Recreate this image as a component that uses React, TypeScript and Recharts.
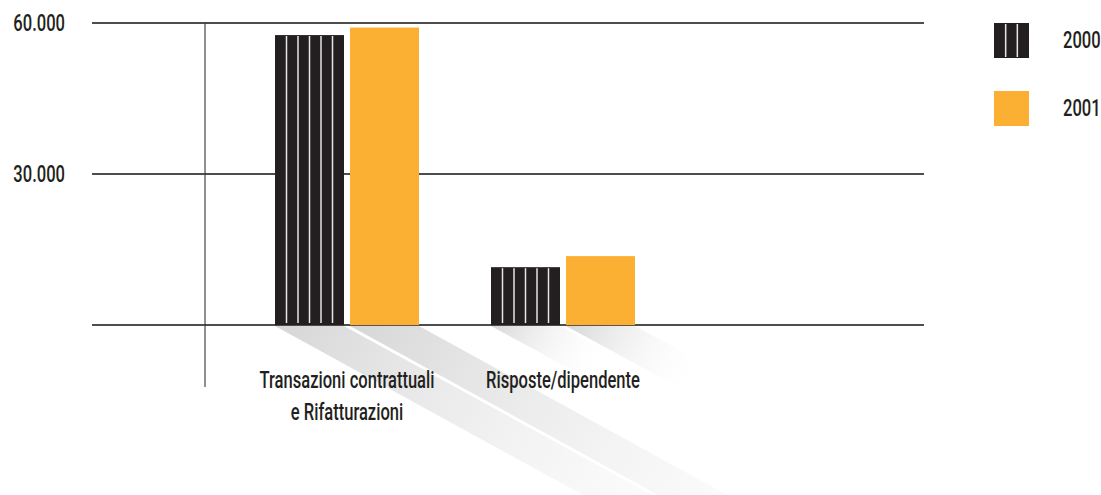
import React from 'react';
import {
  BarChart,
  Bar,
  XAxis,
  YAxis,
  CartesianGrid,
  Legend,
} from 'recharts';

// values
const categories = ['Transazioni contrattuali\ne Rifatturazioni', 'Risposte/dipendente'];
const values2000 = [57600, 11500];
const values2001 = [59100, 13700];
const yTicks = [0, 30000, 60000];
const seriesNames = ['2000', '2001'];

const DARK = '#231f20';
const ORANGE = '#fbb034';
const GRID = '#4d4d4d';
const FONT = "Roboto, 'Liberation Sans', sans-serif";
// the original uses a condensed face; squeeze a regular one horizontally
const SQUEEZE = 0.72;
const FONT_SIZE = 23;

const data = categories.map((name, i) => ({
  name,
  y2000: values2000[i],
  y2001: values2001[i],
}));

const formatTick = (v: number) => (v === 0 ? '' : v.toLocaleString('it-IT'));

/** bar + its diagonal fading shadow on the floor */
const makeShape = (striped: boolean, key: string) => (props: any) => {
  const { x, y, width, height, fill, index } = props;
  const base = y + height;
  const dy = height;
  const dx = dy / 0.55;
  const gid = `shadow-${key}-${index}`;
  const stripes = striped ? [1, 2, 3, 4, 5].map((k) => x + (width * k) / 6) : [];
  return (
    <g>
      <defs>
        <linearGradient
          id={gid}
          gradientUnits="userSpaceOnUse"
          x1={x}
          y1={base}
          x2={x + dx}
          y2={base + dy}
        >
          <stop offset="0%" stopColor="#cccccc" stopOpacity={0.8} />
          <stop offset="100%" stopColor="#ffffff" stopOpacity={0} />
        </linearGradient>
      </defs>
      <polygon
        points={`${x},${base + 1} ${x + width},${base + 1} ${x + width + dx},${base + dy} ${x + dx},${base + dy}`}
        fill={`url(#${gid})`}
      />
      <rect x={x} y={y} width={width} height={height} fill={fill} />
      {stripes.map((sx, i) => (
        <line
          key={i}
          x1={sx}
          x2={sx}
          y1={y + 1}
          y2={base - 2}
          stroke="#e6e6e6"
          strokeWidth={1.5}
        />
      ))}
    </g>
  );
};

const CategoryTick = (props: any) => {
  const { x, y, payload } = props;
  const lines = String(payload.value).split('\n');
  return (
    <text
      transform={`translate(${x},${y}) scale(${SQUEEZE},1)`}
      textAnchor="middle"
      fill={DARK}
      fontSize={FONT_SIZE}
      fontWeight={500}
      fontFamily={FONT}
    >
      {lines.map((l, i) => (
        <tspan key={i} x={0} y={1 + i * 32}>
          {l}
        </tspan>
      ))}
    </text>
  );
};

const ValueTick = (props: any) => {
  const { x, y, payload } = props;
  return (
    <text
      transform={`translate(${x},${y}) scale(${SQUEEZE},1)`}
      textAnchor="end"
      dy="0.36em"
      fill={DARK}
      fontSize={FONT_SIZE}
      fontWeight={500}
      fontFamily={FONT}
    >
      {formatTick(payload.value)}
    </text>
  );
};

const LegendContent = () => (
  <div style={{ width: 177, paddingLeft: 70, boxSizing: 'border-box', fontFamily: FONT }}>
    {seriesNames.map((name, i) => (
      <div
        key={name}
        style={{ display: 'flex', alignItems: 'center', height: 35, marginBottom: 33, whiteSpace: 'nowrap' }}
      >
        <svg width={35} height={35} style={{ flexShrink: 0, display: 'block' }}>
          <rect x={0} y={0} width={35} height={35} fill={i === 0 ? DARK : ORANGE} />
          {i === 0 &&
            [1, 2].map((k) => (
              <line
                key={k}
                x1={(35 * k) / 3}
                x2={(35 * k) / 3}
                y1={1}
                y2={34}
                stroke="#e6e6e6"
                strokeWidth={1.5}
              />
            ))}
        </svg>
        <span
          style={{
            marginLeft: 34,
            fontSize: FONT_SIZE,
            fontWeight: 500,
            color: DARK,
            display: 'inline-block',
            transform: `scaleX(${SQUEEZE})`,
            transformOrigin: 'left center',
          }}
        >
          {name}
        </span>
      </div>
    ))}
  </div>
);

export default function App() {
  return (
    <div style={{ position: 'absolute', left: 0, top: 0, width: 1101, height: 495, background: '#fff' }}>
      <BarChart
        width={1101}
        height={495}
        data={data}
        margin={{ top: 23, right: 0, bottom: 0, left: 0 }}
        barSize={69}
        barGap={6}
      >
        <CartesianGrid
          horizontal
          vertical={false}
          horizontalValues={yTicks}
          stroke={GRID}
          strokeWidth={2}
        />
        <Bar
          dataKey="y2000"
          name="2000"
          fill={DARK}
          shape={makeShape(true, 'a')}
          isAnimationActive={false}
        />
        <Bar
          dataKey="y2001"
          name="2001"
          fill={ORANGE}
          shape={makeShape(false, 'b')}
          isAnimationActive={false}
        />
        <XAxis
          dataKey="name"
          height={108}
          padding={{ left: 34, right: 253 }}
          axisLine={false}
          tickLine={false}
          tickSize={0}
          tickMargin={0}
          interval={0}
          tick={<CategoryTick />}
        />
        <YAxis
          width={205}
          domain={[-12300, 60000]}
          ticks={yTicks}
          axisLine={{ stroke: DARK, strokeWidth: 1 }}
          tickLine={{ stroke: GRID, strokeWidth: 2 }}
          tickSize={113}
          tickMargin={27}
          tick={<ValueTick />}
        />
        <Legend layout="vertical" align="right" verticalAlign="top" content={<LegendContent />} />
      </BarChart>
    </div>
  );
}
